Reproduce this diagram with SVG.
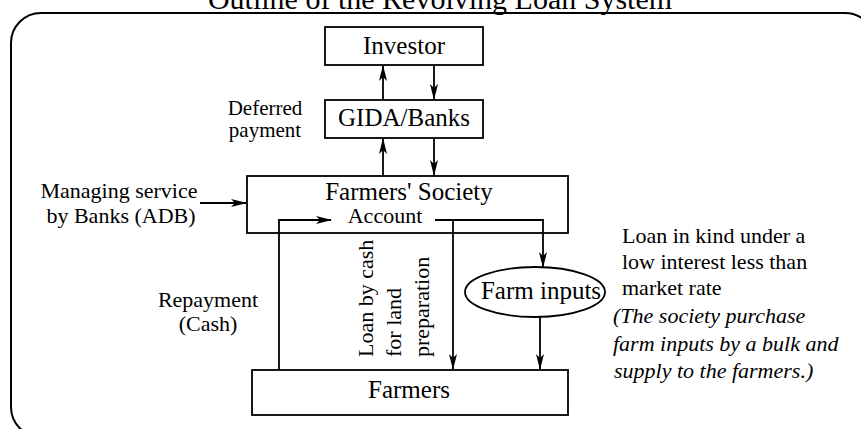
<svg xmlns="http://www.w3.org/2000/svg" width="861" height="429" viewBox="0 0 861 429">
  <style>
    text { font-family: "Liberation Serif", "Times New Roman", serif; fill: #000; }
    .box { fill: #fff; stroke: #000; stroke-width: 1.8; }
    .open { fill: none; }
    .big { font-size: 25px; }
    .mid { font-size: 22px; }
    .small { font-size: 21px; }
    .it { font-size: 22px; font-style: italic; }
    .title { font-size: 30px; }
    .wire { fill: none; stroke: #000; stroke-width: 1.8; }
  </style>
  <defs>
    <marker id="arrow" viewBox="0 0 16 8" refX="15" refY="4" markerWidth="16" markerHeight="8" markerUnits="userSpaceOnUse" orient="auto">
      <path d="M0,0 L16,4 L0,8 L4,4 Z" fill="#000"/>
    </marker>
  </defs>

  <rect width="861" height="429" fill="#fff"/>

  <!-- heading, partly above the frame -->
  <text class="title" x="440" y="9" text-anchor="middle">Outline of the Revolving Loan System</text>

  <!-- outer rounded frame -->
  <rect x="11" y="13" width="864" height="424" rx="30" ry="30" fill="none" stroke="#000" stroke-width="2"/>

  <g id="investor">
    <rect class="box" x="325" y="27" width="158" height="38"/>
    <text class="big" x="404" y="54" text-anchor="middle">Investor</text>
  </g>

  <g id="gida-banks">
    <rect class="box" x="325" y="100" width="158" height="38"/>
    <text class="big" x="404" y="126" text-anchor="middle">GIDA/Banks</text>
  </g>

  <g id="farmers-society">
    <rect class="box open" x="247" y="176" width="321" height="57"/>
    <text class="big" x="409" y="200" text-anchor="middle">Farmers' Society</text>
    <text class="mid" x="385" y="223" text-anchor="middle">Account</text>
  </g>

  <g id="farm-inputs">
    <ellipse cx="535" cy="292" rx="70" ry="25" fill="#fff" stroke="#000" stroke-width="1.8"/>
    <text class="big" x="541" y="299" text-anchor="middle">Farm inputs</text>
  </g>

  <g id="farmers">
    <rect class="box" x="252" y="370" width="316" height="45"/>
    <text class="big" x="409" y="398" text-anchor="middle">Farmers</text>
  </g>

  <!-- connectors -->
  <g id="connectors" class="wire">
    <path d="M383,100 V66" marker-end="url(#arrow)"/>
    <path d="M434,65 V99" marker-end="url(#arrow)"/>
    <path d="M383,176 V139" marker-end="url(#arrow)"/>
    <path d="M434,138 V175" marker-end="url(#arrow)"/>
    <path d="M200,203 H246" marker-end="url(#arrow)"/>
    <path d="M279,370 V220 H331" marker-end="url(#arrow)"/>
    <path d="M435,220 H543 V267" marker-end="url(#arrow)"/>
    <path d="M453,220 V369" marker-end="url(#arrow)"/>
    <path d="M540,317 V369" marker-end="url(#arrow)"/>
  </g>

  <!-- flow labels -->
  <g id="labels">
    <text class="small" x="265" y="115" text-anchor="middle">Deferred</text>
    <text class="small" x="265" y="137" text-anchor="middle">payment</text>

    <text class="mid" x="119" y="198" text-anchor="middle">Managing service</text>
    <text class="mid" x="121" y="223" text-anchor="middle">by Banks (ADB)</text>

    <text class="mid" x="208" y="307" text-anchor="middle">Repayment</text>
    <text class="mid" x="208" y="331" text-anchor="middle">(Cash)</text>

    <text class="mid" transform="translate(373,357) rotate(-90)">Loan by cash</text>
    <text class="mid" transform="translate(401,357) rotate(-90)">for land</text>
    <text class="mid" transform="translate(429,357) rotate(-90)">preparation</text>

    <text class="mid" x="622" y="243">Loan in kind under a</text>
    <text class="mid" x="622" y="269">low interest less than</text>
    <text class="mid" x="622" y="295">market rate</text>

    <text class="it" x="613" y="323">(The society purchase</text>
    <text class="it" x="613" y="351">farm inputs by a bulk and</text>
    <text class="it" x="614" y="378">supply to the farmers.)</text>
  </g>
</svg>
